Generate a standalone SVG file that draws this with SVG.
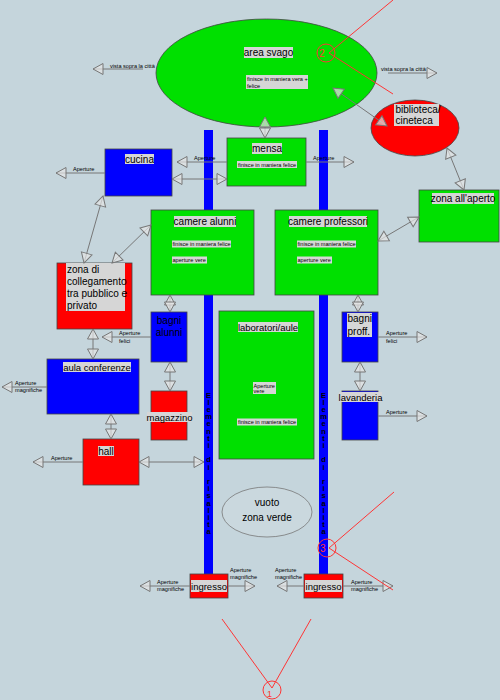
<svg xmlns="http://www.w3.org/2000/svg" width="500" height="700" viewBox="0 0 500 700">
<style>
text{font-family:"Liberation Sans",Arial,sans-serif;fill:#000}
.big{font-size:10px}
.mid{font-size:9.5px}
.sm{font-size:5.6px}
.mdl{text-anchor:middle}
.lb{fill:#d6d6d6}
.g{fill:#00e000;stroke:#444;stroke-width:0.8}
.b{fill:#0000ff;stroke:#444;stroke-width:0.8}
.r{fill:#ff0000;stroke:#444;stroke-width:0.8}
.c line{stroke:#777;stroke-width:1}
.e{marker-end:url(#ah)}
.d{marker-start:url(#ah);marker-end:url(#ah)}
.red{stroke:#ff3535;stroke-width:1;fill:none}
.rt{fill:#ff3535;font-size:10px}
.v{font-size:7.5px;text-anchor:middle;font-weight:bold}
</style>
<defs>
<marker id="ah" viewBox="0 0 10 11" refX="10" refY="5.5" markerWidth="10" markerHeight="11" markerUnits="userSpaceOnUse" orient="auto-start-reverse" overflow="visible">
<path d="M0,0 L10,5.5 L0,11 Z" fill="#e4e4e4" fill-opacity="0.7" stroke="#777" stroke-width="1"/>
</marker>
</defs>
<rect x="0" y="0" width="500" height="700" fill="#c5d5dc"/>

<g id="bar-left"><rect x="204" y="130" width="9" height="444" fill="#0000ff"/>
<text class="v" x="208.5 208.5 208.5 208.5 208.5 208.5 208.5 208.5 208.5 208.5 208.5 208.5 208.5 208.5 208.5 208.5 208.5 208.5 208.5 208.5" y="397.5 404.7 411.9 419.1 426.3 433.5 440.7 447.9 455.1 462.3 469.5 476.7 483.9 491.1 498.3 505.5 512.7 519.9 527.1 534.3">Elementi di risalita</text></g>
<g id="bar-right"><rect x="319" y="130" width="9" height="444" fill="#0000ff"/>
<text class="v" x="323.5 323.5 323.5 323.5 323.5 323.5 323.5 323.5 323.5 323.5 323.5 323.5 323.5 323.5 323.5 323.5 323.5 323.5 323.5 323.5" y="397.5 404.7 411.9 419.1 426.3 433.5 440.7 447.9 455.1 462.3 469.5 476.7 483.9 491.1 498.3 505.5 512.7 519.9 527.1 534.3">Elementi di risalita</text></g>

<g id="area-svago">
<ellipse cx="266.5" cy="73" rx="110.5" ry="54" class="g"/>
<rect x="244" y="47" width="49" height="11" class="lb"/>
<text class="big mdl" x="268.5" y="56">area svago</text>
<rect x="246" y="75" width="62" height="14" class="lb"/>
<text class="sm" x="247" y="80.5">finisce in maniera vera +</text>
<text class="sm" x="247" y="87.5">felice</text>
</g>

<g id="biblioteca">
<ellipse cx="415" cy="128" rx="44" ry="28" class="r"/>
<rect x="394" y="104" width="45" height="22" class="lb"/>
<text class="big" x="395.5" y="113">biblioteca/</text>
<text class="big" x="395.5" y="124">cineteca</text>
</g>

<g id="mensa">
<rect x="227" y="138" width="79" height="48" class="g"/>
<rect x="252" y="143" width="30" height="11" class="lb"/>
<text class="big mdl" x="267" y="152">mensa</text>
<rect x="237" y="161" width="60" height="7" class="lb"/>
<text class="sm mdl" x="267" y="166.5">finisce in maniera felice</text>
</g>

<g id="cucina">
<rect x="105" y="149" width="67" height="47" class="b"/>
<rect x="125" y="154" width="29" height="10" class="lb"/>
<text class="big mdl" x="139.5" y="162.5">cucina</text>
</g>

<g id="camere-alunni">
<rect x="151" y="210" width="103" height="85" class="g"/>
<rect x="174" y="216" width="62" height="11" class="lb"/>
<text class="big mdl" x="205" y="225">camere alunni</text>
<rect x="172" y="240.5" width="59" height="7" class="lb"/>
<text class="sm" x="172.5" y="246">finisce in maniera felice</text>
<rect x="172" y="256.5" width="35" height="7" class="lb"/>
<text class="sm" x="172.5" y="262">aperture vere</text>
</g>

<g id="camere-professori">
<rect x="275" y="210" width="103" height="85" class="g"/>
<rect x="289" y="216" width="78" height="11" class="lb"/>
<text class="big mdl" x="328" y="225">camere professori</text>
<rect x="297" y="240.5" width="59" height="7" class="lb"/>
<text class="sm" x="297.5" y="246">finisce in maniera felice</text>
<rect x="297" y="256.5" width="35" height="7" class="lb"/>
<text class="sm" x="297.5" y="262">aperture vere</text>
</g>

<g id="zona-aperto">
<rect x="419" y="190" width="80" height="52" class="g"/>
<rect x="432" y="193" width="62" height="11" class="lb"/>
<text class="big mdl" x="463" y="202">zona all'aperto</text>
</g>

<g id="zona-collegamento">
<rect x="57" y="263" width="75" height="66" class="r"/>
<rect x="66" y="263" width="59" height="48" class="lb"/>
<text class="big" x="67" y="273">zona di</text>
<text class="big" x="67" y="285">collegamento</text>
<text class="big" x="67" y="297">tra pubblico e</text>
<text class="big" x="67" y="308.5">privato</text>
</g>

<g id="bagni-alunni">
<rect x="151" y="312" width="36" height="50" class="b"/>
<text class="big mdl" x="169" y="324">bagni</text>
<text class="big mdl" x="169" y="336">alunni</text>
</g>

<g id="magazzino">
<rect x="151" y="391" width="36" height="49" class="r"/>
<rect x="147" y="412" width="45" height="10" class="lb"/>
<text class="mid mdl" x="169.5" y="420.5">magazzino</text>
</g>

<g id="laboratori">
<rect x="219" y="311" width="95" height="148" class="g"/>
<rect x="238" y="322" width="60" height="10" class="lb"/>
<text class="mid mdl" x="268" y="330.5">laboratori/aule</text>
<rect x="253" y="382" width="23" height="12" class="lb"/>
<text class="sm" x="253.5" y="387.5">Aperture</text>
<text class="sm" x="253.5" y="393">vere</text>
<rect x="237" y="418.5" width="60" height="7" class="lb"/>
<text class="sm mdl" x="267" y="424">finisce in maniera felice</text>
</g>

<g id="bagni-proff">
<rect x="342" y="312" width="36" height="50" class="b"/>
<rect x="347" y="313" width="25" height="24" class="lb"/>
<text class="big" x="347.5" y="322">bagni</text>
<text class="big" x="347.5" y="335">proff.</text>
</g>

<g id="lavanderia">
<rect x="342" y="391" width="36" height="49" class="b"/>
<rect x="339" y="392" width="43" height="10" class="lb"/>
<text class="mid mdl" x="360.5" y="400.5">lavanderia</text>
</g>

<g id="aula-conferenze">
<rect x="47" y="359" width="92" height="55" class="b"/>
<rect x="63" y="362" width="68" height="10" class="lb"/>
<text class="mid mdl" x="97" y="370.5">aula conferenze</text>
</g>

<g id="hall">
<rect x="83" y="439" width="56" height="46" class="r"/>
<rect x="98" y="446" width="16" height="10" class="lb"/>
<text class="big mdl" x="106" y="454.5">hall</text>
</g>

<g id="vuoto">
<ellipse cx="267" cy="512" rx="45" ry="25" fill="#cad8de" stroke="#777" stroke-width="0.8"/>
<text class="big mdl" x="267" y="505.5">vuoto</text>
<text class="big mdl" x="267" y="520.5">zona verde</text>
</g>

<g id="ingresso-1">
<rect x="190" y="574" width="38" height="24" class="r"/>
<rect x="191" y="580" width="36" height="12" class="lb"/>
<text class="mid mdl" x="209" y="589.5">ingresso</text>
</g>
<g id="ingresso-2">
<rect x="304" y="574" width="39" height="24" class="r"/>
<rect x="305" y="580" width="37" height="12" class="lb"/>
<text class="mid mdl" x="323.5" y="589.5">ingresso</text>
</g>

<g id="connectors" class="c">
<line class="e" x1="143" y1="69" x2="93" y2="69"/>
<line class="e" x1="388" y1="73" x2="437" y2="73"/>
<line class="d" x1="333" y1="88" x2="387" y2="126"/>
<line class="d" x1="447" y1="148" x2="464" y2="190"/>
<line class="d" x1="265" y1="117" x2="265" y2="138"/>
<line class="e" x1="227" y1="162" x2="177" y2="162"/>
<line class="e" x1="306" y1="162" x2="354" y2="162"/>
<line class="d" x1="172" y1="179" x2="227" y2="179"/>
<line class="e" x1="105" y1="173" x2="56" y2="173"/>
<line class="d" x1="103" y1="196" x2="84" y2="263"/>
<line class="d" x1="151" y1="225" x2="112" y2="263"/>
<line class="d" x1="378" y1="241" x2="419" y2="217"/>
<line class="d" x1="170" y1="295" x2="170" y2="312"/>
<line class="d" x1="358" y1="295" x2="358" y2="312"/>
<line class="e" x1="151" y1="337" x2="102" y2="337"/>
<line class="e" x1="378" y1="337" x2="427" y2="337"/>
<line class="d" x1="93" y1="329" x2="93" y2="359"/>
<line class="d" x1="170" y1="362" x2="170" y2="391"/>
<line class="d" x1="360" y1="362" x2="360" y2="391"/>
<line class="e" x1="378" y1="416" x2="427" y2="416"/>
<line class="e" x1="47" y1="387" x2="2" y2="387"/>
<line class="d" x1="111" y1="414" x2="111" y2="439"/>
<line class="e" x1="83" y1="462" x2="33" y2="462"/>
<line class="d" x1="139" y1="462" x2="204" y2="462"/>
<line class="e" x1="190" y1="586" x2="140" y2="586"/>
<line class="e" x1="228" y1="586" x2="255" y2="586"/>
<line class="e" x1="304" y1="586" x2="277" y2="586"/>
<line class="e" x1="343" y1="586" x2="393" y2="586"/>
</g>

<g id="connector-labels">
<text class="sm" x="110" y="67.5">vista sopra la città</text>
<text class="sm" x="381" y="71">vista sopra la città</text>
<text class="sm" x="194" y="160">Aperture</text>
<text class="sm" x="313" y="160">Aperture</text>
<text class="sm" x="73" y="170.5">Aperture</text>
<text class="sm" x="119" y="335">Aperture</text>
<text class="sm" x="119" y="343">felici</text>
<text class="sm" x="386" y="335">Aperture</text>
<text class="sm" x="386" y="343">felici</text>
<text class="sm" x="386" y="414">Aperture</text>
<text class="sm" x="15" y="385">Aperture</text>
<text class="sm" x="15" y="392">magnifiche</text>
<text class="sm" x="51" y="460">Aperture</text>
<text class="sm" x="157" y="584">Aperture</text>
<text class="sm" x="157" y="591">magnifiche</text>
<text class="sm" x="230" y="572">Aperture</text>
<text class="sm" x="230" y="579">magnifiche</text>
<text class="sm" x="275" y="572">Aperture</text>
<text class="sm" x="275" y="579">magnifiche</text>
<text class="sm" x="351" y="584">Aperture</text>
<text class="sm" x="351" y="591">magnifiche</text>
</g>

<g id="viewpoint-2">
<circle cx="326" cy="53" r="9" class="red"/>
<polyline points="393,0 329,53 393,94" class="red"/>
<text class="rt" x="319" y="57">2</text>
</g>
<g id="viewpoint-3">
<circle cx="327" cy="548" r="9" class="red"/>
<polyline points="394,492 329,548 393,590" class="red"/>
<text class="rt" x="320" y="552">3</text>
</g>
<g id="viewpoint-1">
<circle cx="272" cy="690" r="9" class="red"/>
<polyline points="222,619 272,688 311,619" class="red"/>
<text class="rt" x="267" y="697" style="font-size:9px">1</text>
</g>
</svg>
